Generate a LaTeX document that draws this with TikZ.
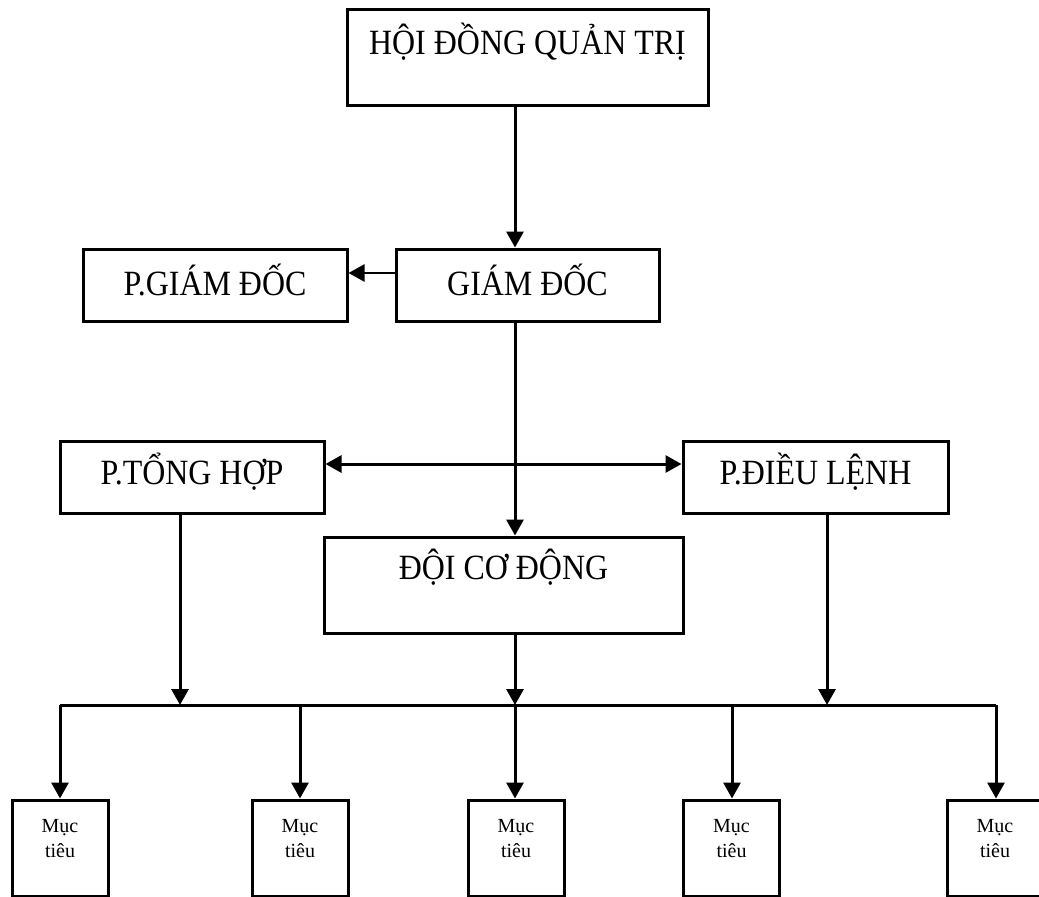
\documentclass[tikz,border=0pt]{standalone}
\usepackage{fontspec}
\setmainfont{Liberation Serif}
\newfontfamily\tallfont{Liberation Serif}[FakeStretch=0.9]
\usetikzlibrary{arrows.meta}
\begin{document}
\begin{tikzpicture}[x=1pt,y=-1pt,
  box/.style={draw=black, line width=3pt, inner sep=0pt, fill=white,
    font=\tallfont\fontsize{35.5}{42}\selectfont},
  small/.style={draw=black, line width=3pt, inner sep=0pt, align=center,
    minimum width=96pt, minimum height=96pt, text height=57pt, text depth=39pt,
    font=\fontsize{20}{25}\selectfont},
  conn/.style={line width=3pt},
  arr/.style={conn, -{Triangle[width=17pt,length=16pt]}},
  darr/.style={conn, {Triangle[width=17pt,length=16pt]}-{Triangle[width=17pt,length=16pt]}}
]
\useasboundingbox (0,0) rectangle (1039,897);

% main boxes
\node[box, minimum width=361pt, minimum height=96pt, text height=45pt, text depth=51pt] (hdqt) at (527.5,57) {HỘI ĐỒNG QUẢN TRỊ};
\node[box, minimum width=264pt, minimum height=72pt, text height=46pt, text depth=26pt] (pgd) at (215,285) {P.GIÁM ĐỐC};
\node[box, minimum width=263pt, minimum height=72pt, text height=46pt, text depth=26pt] (gd) at (527.5,285) {GIÁM ĐỐC};
\node[box, minimum width=264pt, minimum height=72pt, text height=43pt, text depth=29pt] (pth) at (192,477) {P.TỔNG HỢP};
\node[box, minimum width=265pt, minimum height=72pt, text height=43pt, text depth=29pt] (pdl) at (815.5,477) {P.ĐIỀU LỆNH};
\node[box, minimum width=359pt, minimum height=96pt, text height=42pt, text depth=54pt] (dcd) at (503.5,585) {ĐỘI CƠ ĐỘNG};

% target boxes
\node[small] (m1) at (60,848) {Mục\\tiêu};
\node[small] (m2) at (300,848) {Mục\\tiêu};
\node[small] (m3) at (516,848) {Mục\\tiêu};
\node[small] (m4) at (731.5,848) {Mục\\tiêu};
\node[small] (m5) at (995,848) {Mục\\tiêu};

% helper coordinates
\coordinate (cx) at (515,0);
\coordinate (d1) at (60,705);
\coordinate (d2) at (300,705);
\coordinate (d3) at (515,705);
\coordinate (d4) at (732,705);
\coordinate (d5) at (996,705);
\coordinate (j1) at (180,705);
\coordinate (j3) at (827,705);

% connectors
\draw[arr] (hdqt.south -| cx) -- (gd.north -| cx);
\draw[arr, line width=2.5pt] (gd.west |- 0,273) -- (pgd.east |- 0,273);
\draw[darr] (pth.east |- 0,464) -- (pdl.west |- 0,464);
\draw[arr] (gd.south -| cx) -- (dcd.north -| cx);

\draw[arr] (pth.south -| j1) -- (j1);
\draw[arr] (dcd.south -| d3) -- (d3);
\draw[arr] (pdl.south -| j3) -- (j3);

\draw[conn] (d1) -- (d5);
\draw[arr] (d1) -- (d1 |- m1.north);
\draw[arr] (d2) -- (d2 |- m2.north);
\draw[arr] (d3) -- (d3 |- m3.north);
\draw[arr] (d4) -- (d4 |- m4.north);
\draw[arr] (d5) -- (d5 |- m5.north);
\end{tikzpicture}
\end{document}
